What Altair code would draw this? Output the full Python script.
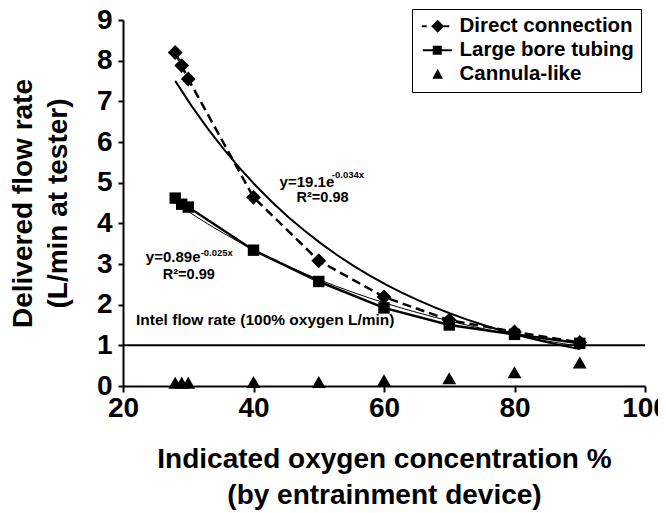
import altair as alt
import pandas as pd

# ---- data ----
x_vals = [28, 29, 30, 40, 50, 60, 70, 80, 90]
direct = [8.2, 7.88, 7.55, 4.64, 3.08, 2.19, 1.62, 1.33, 1.07]
large_bore = [4.62, 4.47, 4.4, 3.34, 2.57, 1.92, 1.5, 1.27, 1.05]
cannula = [0.08, 0.08, 0.08, 0.1, 0.1, 0.14, 0.19, 0.34, 0.58]
series_names = ["Direct connection", "Large bore tubing", "Cannula-like"]
x_ticks = [20, 40, 60, 80, 100]
y_ticks = [0, 1, 2, 3, 4, 5, 6, 7, 8, 9]
intel_flow = [1]

ann_text = ["y=19.1e", "-0.034x", "R²=0.98", "y=0.89e", "-0.025x", "R²=0.99",
            "Intel flow rate (100% oxygen L/min)"]
ann_x = [44.0, 52.0, 46.6, 23.5, 31.9, 26.1, 22.0]
ann_y = [4.9, 5.12, 4.52, 3.05, 3.2, 2.62, 1.49]
ann_size = [15, 9.5, 14.5, 15, 9.5, 14.5, 15.5]

# legend glyphs (line + marker drawn as filled shapes), unit = half the symbol size
legend_paths = [
    "M-0.83,-0.11L-0.28,-0.11L-0.28,0.11L-0.83,0.11Z"
    "M0.22,0L0.94,-0.72L1.66,0L0.94,0.72Z"
    "M1.6,-0.11L2.22,-0.11L2.22,0.11L1.6,0.11Z",
    "M-0.72,-0.12L2.5,-0.12L2.5,0.12L-0.72,0.12Z"
    "M0.39,-0.5L1.39,-0.5L1.39,0.5L0.39,0.5Z",
    "M0.94,-0.62L1.52,0.5L0.36,0.5Z",
]

rows = []
for name, vals in zip(series_names, [direct, large_bore, cannula]):
    for xv, yv in zip(x_vals, vals):
        rows.append({"x": xv, "y": yv, "series": name})
df = pd.DataFrame(rows)
ann = pd.DataFrame({"t": ann_text, "x": ann_x, "y": ann_y, "s": ann_size})
ref = pd.DataFrame({"y": intel_flow})

xs = alt.Scale(domain=[20, 100], nice=False)
ys = alt.Scale(domain=[0, 9], nice=False)

X = alt.X("x:Q", scale=xs, axis=alt.Axis(
    values=x_ticks, title=["Indicated oxygen concentration %", "(by entrainment device)"],
    labelFontSize=28, labelFontWeight="bold", labelPadding=2, labelFlush=False,
    labelOverlap=False, tickSize=6, tickWidth=2, tickColor="black", domainWidth=2,
    domainColor="black", titleFontSize=28, titleFontWeight="bold", titlePadding=23,
    titleLineHeight=36, grid=False, labelColor="black", titleColor="black"))
Y = alt.Y("y:Q", scale=ys, axis=alt.Axis(
    values=y_ticks, title=["Delivered flow rate", "(L/min at tester)"],
    labelFontSize=28, labelFontWeight="bold", labelPadding=6, labelFlush=False,
    labelOverlap=False, tickSize=5, tickWidth=2, tickColor="black", domainWidth=2,
    domainColor="black", titleFontSize=28, titleFontWeight="bold", titlePadding=24,
    titleLineHeight=35, grid=False, labelColor="black", titleColor="black"))

XP = alt.X("x:Q", scale=xs)
YP = alt.Y("y:Q", scale=ys)

base = alt.Chart(df)
d_data = base.transform_filter(alt.datum.series == series_names[0])
l_data = base.transform_filter(alt.datum.series == series_names[1])
c_data = base.transform_filter(alt.datum.series == series_names[2])


def exp_fit(src, width):
    return (src.transform_calculate(ly="log(datum.y)")
            .transform_regression("x", "ly", method="poly", order=1)
            .transform_calculate(yf="exp(datum.ly)")
            .mark_line(color="black", strokeWidth=width)
            .encode(x=XP, y=alt.Y("yf:Q", scale=ys)))


rule = alt.Chart(ref).mark_rule(color="black", strokeWidth=2).encode(y=YP)

d_line = d_data.mark_line(color="black", strokeWidth=2.5, strokeDash=[9, 5]).encode(x=X, y=Y)
d_fit = exp_fit(d_data, 2)
l_line = l_data.mark_line(color="black", strokeWidth=2.5).encode(x=XP, y=YP)
l_fit = exp_fit(l_data, 1)

d_pts = d_data.mark_point(shape="diamond", filled=True, color="black", size=220, opacity=1).encode(x=XP, y=YP)
l_pts = l_data.mark_point(shape="square", filled=True, color="black", size=130, opacity=1).encode(x=XP, y=YP)
c_pts = c_data.mark_point(shape="triangle-up", filled=True, color="black", size=190, opacity=1).encode(x=XP, y=YP)

legend_layer = base.transform_filter(alt.datum.x < 0).mark_point(
    filled=True, color="black", opacity=1).encode(
    x=XP, y=YP,
    shape=alt.Shape("series:N", scale=alt.Scale(domain=series_names, range=legend_paths),
                    legend=alt.Legend(
                        title=None, orient="none", legendX=289, legendY=-11,
                        labelFontSize=20.5, labelFontWeight="bold", labelColor="black",
                        symbolSize=324, symbolFillColor="black", symbolOpacity=1,
                        labelOffset=20, rowPadding=3, padding=7, strokeColor="black",
                        labelLimit=400)))

texts = alt.Chart(ann).mark_text(align="left", baseline="alphabetic", fontWeight="bold",
                                 color="black").encode(
    x=XP, y=YP, text="t:N",
    size=alt.Size("s:Q", scale=None, legend=None))

chart = alt.layer(rule, d_line, d_fit, l_fit, l_line, d_pts, l_pts, c_pts, texts, legend_layer).properties(
    width=522, height=366,
    autosize=alt.AutoSizeParams(type="none"),
    padding={"left": 115, "top": 12, "right": 13, "bottom": 125},
).configure(font="Liberation Sans").configure_view(stroke=None)

chart.save("out.html", embed_options={"renderer": "svg", "actions": False})
